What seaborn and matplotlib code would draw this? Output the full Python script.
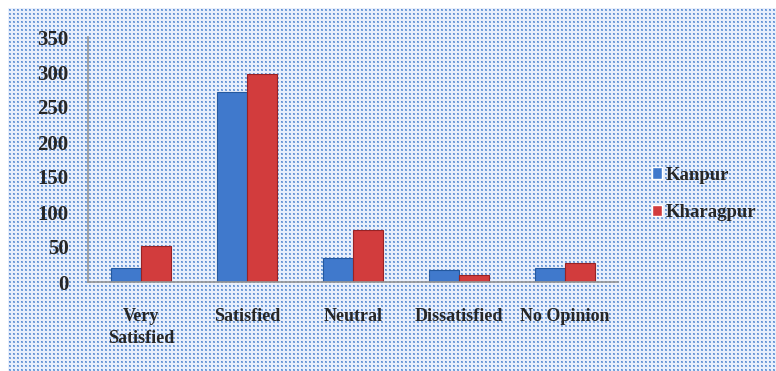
import numpy as np
import pandas as pd
import matplotlib
matplotlib.use("Agg")
import matplotlib.pyplot as plt
import seaborn as sns
from matplotlib.ticker import FixedLocator

categories = ["Very\nSatisfied", "Satisfied", "Neutral", "Dissatisfied", "No Opinion"]
kanpur = [20, 272, 34, 17, 20]
kharagpur = [51, 297, 74, 10, 27]
series_names = ["Kanpur", "Kharagpur"]
yticks = [0, 50, 100, 150, 200, 250, 300, 350]

df = pd.DataFrame({
    "category": categories * 2,
    "value": kanpur + kharagpur,
    "city": [series_names[0]] * len(categories) + [series_names[1]] * len(categories),
})

sns.set_style("white")
plt.rcParams["font.family"] = ["Liberation Serif", "DejaVu Serif"]
plt.rcParams["font.weight"] = "bold"

W, H = 776, 371
fig = plt.figure(figsize=(W / 100, H / 100), dpi=100)
fig.patch.set_facecolor("white")

# dotted background texture
tile = np.ones((4, 4, 3))
tile[:, :] = np.array([0.91, 0.94, 0.99])
tile[1, 1] = np.array([0.38, 0.56, 0.82])
tile[1, 2] = np.array([0.52, 0.67, 0.88])
tile[2, 1] = np.array([0.52, 0.67, 0.88])
tile[2, 2] = np.array([0.45, 0.62, 0.85])
tex = np.tile(tile, (H // 4 + 1, W // 4 + 1, 1))[: H - 8, : W - 8]
fig.figimage(tex, xo=8, yo=0, origin="upper", zorder=-10)

ax = fig.add_axes([88 / W, 1 - 282 / H, (618 - 88) / W, (282 - 37) / H])
ax.set_zorder(1)
ax.patch.set_alpha(0)

palette = {"Kanpur": "#4079cc", "Kharagpur": "#d23c3d"}
sns.barplot(data=df, x="category", y="value", hue="city", palette=palette,
            width=0.57, saturation=1, ax=ax, legend=True)
edges = {"Kanpur": "#24589e", "Kharagpur": "#982224"}
for cont, name in zip(ax.containers, series_names):
    for bar in cont:
        bar.set_edgecolor(edges[name])
        bar.set_linewidth(0.8)

ax.set_ylim(0, 350)
ax.set_xlim(-0.5, 4.5)
ax.set_yticks(yticks)
ax.set_xlabel("")
ax.set_ylabel("")
for s in ["top", "right"]:
    ax.spines[s].set_visible(False)
for s in ["left", "bottom"]:
    ax.spines[s].set_color("#949494")
    ax.spines[s].set_linewidth(1.2)

ax.xaxis.set_minor_locator(FixedLocator(np.arange(-0.5, 5, 1)))
ax.tick_params(axis="x", which="major", length=0, pad=19, labelsize=13)
ax.tick_params(axis="x", which="minor", length=5, width=1.2, color="#949494", direction="out")
ax.tick_params(axis="y", length=5, width=1.2, color="#949494", direction="out", labelsize=15, pad=9)
for lbl in ax.get_xticklabels() + ax.get_yticklabels():
    lbl.set_fontweight("bold")
for lbl in ax.get_xticklabels():
    lbl.set_linespacing(1.35)

handles, labels = ax.get_legend_handles_labels()
leg = ax.legend(handles, labels, loc="center left", bbox_to_anchor=(635 / W, 1 - 194 / H),
                bbox_transform=fig.transFigure, frameon=False,
                prop={"family": "Liberation Serif", "weight": "bold", "size": 13.5},
                handlelength=0.55, handleheight=0.55, handletextpad=0.2, labelspacing=1.1)

fig.savefig("out.png", dpi=100)
